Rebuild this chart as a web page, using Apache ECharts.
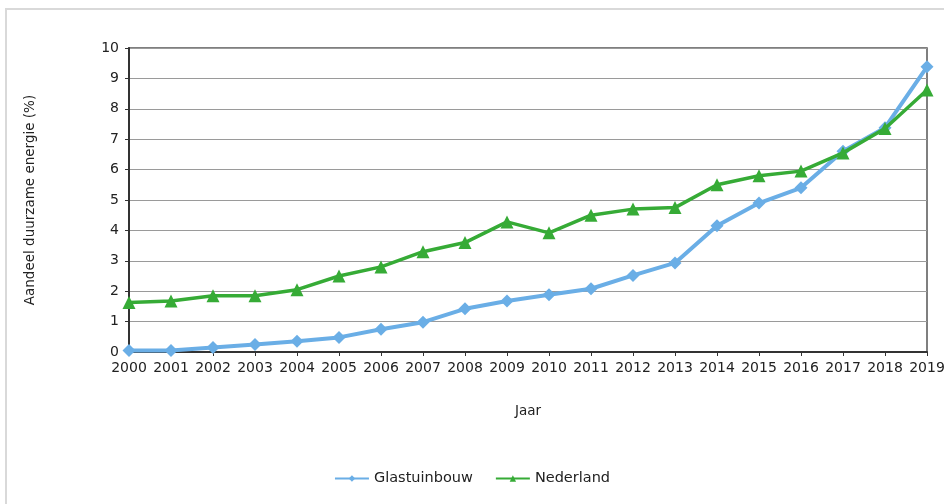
<!DOCTYPE html>
<html>
<head>
<meta charset="utf-8">
<script src="https://cdn.jsdelivr.net/npm/echarts@6/dist/echarts.min.js"></script>
<style>
  html, body { margin: 0; padding: 0; background: #fff; }
  #frame { position: absolute; left: 5px; top: 8px; width: 960px; height: 520px; border-left: 2px solid #d9d9d9; border-top: 2px solid #d9d9d9; }
  #main { position: absolute; left: 0; top: 0; width: 944px; height: 504px; }
</style>
</head>
<body>
<div id="frame"></div>
<div id="main"></div>
<script>
const years = ['2000','2001','2002','2003','2004','2005','2006','2007','2008','2009','2010','2011','2012','2013','2014','2015','2016','2017','2018','2019'];
const glastuinbouw = [0.05, 0.05, 0.15, 0.25, 0.35, 0.48, 0.75, 0.98, 1.42, 1.68, 1.88, 2.08, 2.52, 2.93, 4.15, 4.9, 5.4, 6.6, 7.38, 9.38];
const nederland = [1.63, 1.68, 1.85, 1.85, 2.05, 2.5, 2.8, 3.3, 3.6, 4.28, 3.92, 4.5, 4.7, 4.75, 5.5, 5.8, 5.95, 6.55, 7.35, 8.62];
const yTicks = [0,1,2,3,4,5,6,7,8,9,10];

const font = 'DejaVu Sans, Verdana, sans-serif';
const chart = echarts.init(document.getElementById('main'));
chart.setOption({
  animation: false,
  textStyle: { fontFamily: font, color: '#222' },
  grid: { left: 129, right: 17, top: 48, bottom: 152, show: true, borderColor: '#555', borderWidth: 1.5,
    backgroundColor: 'transparent', containLabel: false, outerBoundsMode: 'none' },
  xAxis: {
    type: 'category', data: years, boundaryGap: false,
    name: 'Jaar', nameLocation: 'middle', nameGap: 52,
    nameTextStyle: { fontFamily: font, fontSize: 13.5, color: '#222' },
    axisLine: { lineStyle: { color: '#333', width: 2 } },
    axisTick: { show: true, length: 4, lineStyle: { color: '#333' } },
    axisLabel: { fontFamily: font, fontSize: 14, color: '#222', margin: 9, interval: 0, hideOverlap: false },
    splitLine: { show: false }
  },
  yAxis: {
    type: 'value', min: 0, max: 10, interval: 1,
    name: 'Aandeel duurzame energie (%)', nameLocation: 'middle', nameGap: 92, nameRotate: 90,
    nameTextStyle: { fontFamily: font, fontSize: 13.5, color: '#222' },
    axisLine: { show: true, lineStyle: { color: '#333', width: 2 } },
    axisTick: { show: true, length: 4, lineStyle: { color: '#333' } },
    axisLabel: { fontFamily: font, fontSize: 14, color: '#222', margin: 10,
      formatter: v => yTicks.includes(v) ? String(v) : '' },
    splitLine: { show: true, lineStyle: { color: '#9a9a9a', width: 1.2 } }
  },
  legend: {
    bottom: 13, left: 'center', itemWidth: 34, itemHeight: 8, itemGap: 22,
    textStyle: { fontFamily: font, fontSize: 14.5, color: '#222' },
    data: ['Glastuinbouw', 'Nederland']
  },
  series: [
    { name: 'Glastuinbouw', type: 'line', data: glastuinbouw, symbol: 'diamond', symbolSize: 13,
      lineStyle: { color: '#6aaee6', width: 4 }, itemStyle: { color: '#6aaee6' }, z: 2 },
    { name: 'Nederland', type: 'line', data: nederland, symbol: 'triangle', symbolSize: 13,
      lineStyle: { color: '#36ab36', width: 3.5 }, itemStyle: { color: '#36ab36' }, z: 3 }
  ]
});
</script>
</body>
</html>
